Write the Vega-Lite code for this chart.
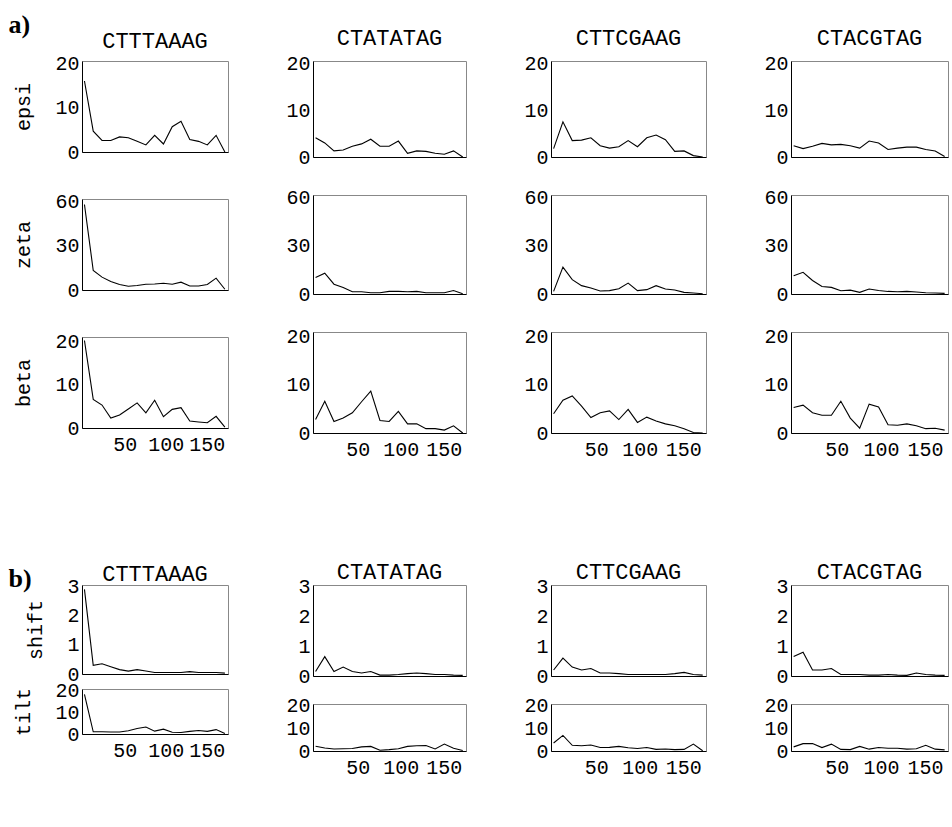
{
  "$schema": "https://vega.github.io/schema/vega-lite/v6.json",
  "background": "white",
  "padding": {"left": 8, "top": 11, "right": 0, "bottom": 0},
  "data": {"values": [
    {"x": 1, "epsi_CTTTAAAG": 16.0, "epsi_CTATATAG": 4.1, "epsi_CTTCGAAG": 1.8, "epsi_CTACGTAG": 2.4, "zeta_CTTTAAAG": 57.8, "zeta_CTATATAG": 10.2, "zeta_CTTCGAAG": 1.6, "zeta_CTACGTAG": 11.4, "beta_CTTTAAAG": 20.2, "beta_CTATATAG": 2.8, "beta_CTTCGAAG": 4.0, "beta_CTACGTAG": 5.3, "shift_CTTTAAAG": 2.9, "shift_CTATATAG": 0.15, "shift_CTTCGAAG": 0.2, "shift_CTACGTAG": 0.65, "tilt_CTTTAAAG": 18, "tilt_CTATATAG": 2.1, "tilt_CTTCGAAG": 3.5, "tilt_CTACGTAG": 1.8},
    {"x": 11.7, "epsi_CTTTAAAG": 4.7, "epsi_CTATATAG": 3.0, "epsi_CTTCGAAG": 7.5, "epsi_CTACGTAG": 1.8, "zeta_CTTTAAAG": 13.2, "zeta_CTATATAG": 12.9, "zeta_CTTCGAAG": 16.7, "zeta_CTACGTAG": 13.5, "beta_CTTTAAAG": 6.6, "beta_CTATATAG": 6.6, "beta_CTTCGAAG": 6.8, "beta_CTACGTAG": 5.8, "shift_CTTTAAAG": 0.3, "shift_CTATATAG": 0.65, "shift_CTTCGAAG": 0.6, "shift_CTACGTAG": 0.8, "tilt_CTTTAAAG": 1.0, "tilt_CTATATAG": 1.3, "tilt_CTTCGAAG": 6.8, "tilt_CTACGTAG": 3.2},
    {"x": 22.4, "epsi_CTTTAAAG": 2.6, "epsi_CTATATAG": 1.3, "epsi_CTTCGAAG": 3.5, "epsi_CTACGTAG": 2.3, "zeta_CTTTAAAG": 8.7, "zeta_CTATATAG": 6.1, "zeta_CTTCGAAG": 8.9, "zeta_CTACGTAG": 8.4, "beta_CTTTAAAG": 5.3, "beta_CTATATAG": 2.4, "beta_CTTCGAAG": 7.7, "beta_CTACGTAG": 4.2, "shift_CTTTAAAG": 0.35, "shift_CTATATAG": 0.15, "shift_CTTCGAAG": 0.3, "shift_CTACGTAG": 0.2, "tilt_CTTTAAAG": 1.0, "tilt_CTATATAG": 0.9, "tilt_CTTCGAAG": 2.5, "tilt_CTACGTAG": 3.3},
    {"x": 33.1, "epsi_CTTTAAAG": 2.6, "epsi_CTATATAG": 1.5, "epsi_CTTCGAAG": 3.6, "epsi_CTACGTAG": 2.9, "zeta_CTTTAAAG": 5.7, "zeta_CTATATAG": 4.1, "zeta_CTTCGAAG": 5.2, "zeta_CTACGTAG": 4.7, "beta_CTTTAAAG": 2.3, "beta_CTATATAG": 3.1, "beta_CTTCGAAG": 5.6, "beta_CTACGTAG": 3.7, "shift_CTTTAAAG": 0.25, "shift_CTATATAG": 0.3, "shift_CTTCGAAG": 0.2, "shift_CTACGTAG": 0.2, "tilt_CTTTAAAG": 0.9, "tilt_CTATATAG": 1.0, "tilt_CTTCGAAG": 2.3, "tilt_CTACGTAG": 1.5},
    {"x": 43.8, "epsi_CTTTAAAG": 3.4, "epsi_CTATATAG": 2.3, "epsi_CTTCGAAG": 4.1, "epsi_CTACGTAG": 2.6, "zeta_CTTTAAAG": 3.7, "zeta_CTATATAG": 1.4, "zeta_CTTCGAAG": 3.7, "zeta_CTACGTAG": 4.1, "beta_CTTTAAAG": 3.0, "beta_CTATATAG": 4.2, "beta_CTTCGAAG": 3.2, "beta_CTACGTAG": 3.7, "shift_CTTTAAAG": 0.15, "shift_CTATATAG": 0.15, "shift_CTTCGAAG": 0.25, "shift_CTACGTAG": 0.25, "tilt_CTTTAAAG": 0.9, "tilt_CTATATAG": 1.1, "tilt_CTTCGAAG": 2.6, "tilt_CTACGTAG": 3.0},
    {"x": 54.5, "epsi_CTTTAAAG": 3.2, "epsi_CTATATAG": 2.8, "epsi_CTTCGAAG": 2.4, "epsi_CTACGTAG": 2.7, "zeta_CTTTAAAG": 2.5, "zeta_CTATATAG": 1.4, "zeta_CTTCGAAG": 1.9, "zeta_CTACGTAG": 2.0, "beta_CTTTAAAG": 4.4, "beta_CTATATAG": 6.5, "beta_CTTCGAAG": 4.2, "beta_CTACGTAG": 6.6, "shift_CTTTAAAG": 0.1, "shift_CTATATAG": 0.1, "shift_CTTCGAAG": 0.1, "shift_CTACGTAG": 0.05, "tilt_CTTTAAAG": 1.5, "tilt_CTATATAG": 1.8, "tilt_CTTCGAAG": 1.5, "tilt_CTACGTAG": 0.7},
    {"x": 65.2, "epsi_CTTTAAAG": 2.4, "epsi_CTATATAG": 3.8, "epsi_CTTCGAAG": 1.9, "epsi_CTACGTAG": 2.4, "zeta_CTTTAAAG": 3.0, "zeta_CTATATAG": 0.8, "zeta_CTTCGAAG": 2.1, "zeta_CTACGTAG": 2.4, "beta_CTTTAAAG": 5.8, "beta_CTATATAG": 8.7, "beta_CTTCGAAG": 4.6, "beta_CTACGTAG": 3.1, "shift_CTTTAAAG": 0.15, "shift_CTATATAG": 0.15, "shift_CTTCGAAG": 0.1, "shift_CTACGTAG": 0.05, "tilt_CTTTAAAG": 2.5, "tilt_CTATATAG": 2.0, "tilt_CTTCGAAG": 1.6, "tilt_CTACGTAG": 0.6},
    {"x": 75.9, "epsi_CTTTAAAG": 1.6, "epsi_CTATATAG": 2.3, "epsi_CTTCGAAG": 2.2, "epsi_CTACGTAG": 1.9, "zeta_CTTTAAAG": 3.9, "zeta_CTATATAG": 0.8, "zeta_CTTCGAAG": 3.3, "zeta_CTACGTAG": 1.0, "beta_CTTTAAAG": 3.5, "beta_CTATATAG": 2.6, "beta_CTTCGAAG": 2.8, "beta_CTACGTAG": 1.0, "shift_CTTTAAAG": 0.1, "shift_CTATATAG": 0.03, "shift_CTTCGAAG": 0.08, "shift_CTACGTAG": 0.05, "tilt_CTTTAAAG": 3.2, "tilt_CTATATAG": 0.3, "tilt_CTTCGAAG": 2.0, "tilt_CTACGTAG": 2.0},
    {"x": 86.6, "epsi_CTTTAAAG": 3.75, "epsi_CTATATAG": 2.3, "epsi_CTTCGAAG": 3.5, "epsi_CTACGTAG": 3.4, "zeta_CTTTAAAG": 4.1, "zeta_CTATATAG": 1.6, "zeta_CTTCGAAG": 6.8, "zeta_CTACGTAG": 3.1, "beta_CTTTAAAG": 6.4, "beta_CTATATAG": 2.4, "beta_CTTCGAAG": 4.9, "beta_CTACGTAG": 6.0, "shift_CTTTAAAG": 0.05, "shift_CTATATAG": 0.03, "shift_CTTCGAAG": 0.05, "shift_CTACGTAG": 0.03, "tilt_CTTTAAAG": 1.3, "tilt_CTATATAG": 0.6, "tilt_CTTCGAAG": 1.4, "tilt_CTACGTAG": 0.8},
    {"x": 97.3, "epsi_CTTTAAAG": 1.8, "epsi_CTATATAG": 3.4, "epsi_CTTCGAAG": 2.2, "epsi_CTACGTAG": 3.0, "zeta_CTTTAAAG": 4.6, "zeta_CTATATAG": 1.6, "zeta_CTTCGAAG": 2.1, "zeta_CTACGTAG": 2.2, "beta_CTTTAAAG": 2.6, "beta_CTATATAG": 4.5, "beta_CTTCGAAG": 2.2, "beta_CTACGTAG": 5.4, "shift_CTTTAAAG": 0.05, "shift_CTATATAG": 0.05, "shift_CTTCGAAG": 0.05, "shift_CTACGTAG": 0.03, "tilt_CTTTAAAG": 2.2, "tilt_CTATATAG": 1.0, "tilt_CTTCGAAG": 1.1, "tilt_CTACGTAG": 1.5},
    {"x": 108, "epsi_CTTTAAAG": 5.7, "epsi_CTATATAG": 0.8, "epsi_CTTCGAAG": 4.1, "epsi_CTACGTAG": 1.6, "zeta_CTTTAAAG": 3.9, "zeta_CTATATAG": 1.4, "zeta_CTTCGAAG": 2.7, "zeta_CTACGTAG": 1.6, "beta_CTTTAAAG": 4.3, "beta_CTATATAG": 1.9, "beta_CTTCGAAG": 3.3, "beta_CTACGTAG": 1.7, "shift_CTTTAAAG": 0.05, "shift_CTATATAG": 0.08, "shift_CTTCGAAG": 0.05, "shift_CTACGTAG": 0.05, "tilt_CTTTAAAG": 0.8, "tilt_CTATATAG": 2.0, "tilt_CTTCGAAG": 1.5, "tilt_CTACGTAG": 1.2},
    {"x": 118.7, "epsi_CTTTAAAG": 6.9, "epsi_CTATATAG": 1.3, "epsi_CTTCGAAG": 4.7, "epsi_CTACGTAG": 1.9, "zeta_CTTTAAAG": 5.3, "zeta_CTATATAG": 1.6, "zeta_CTTCGAAG": 5.2, "zeta_CTACGTAG": 1.4, "beta_CTTTAAAG": 4.7, "beta_CTATATAG": 1.9, "beta_CTTCGAAG": 2.5, "beta_CTACGTAG": 1.6, "shift_CTTTAAAG": 0.05, "shift_CTATATAG": 0.1, "shift_CTTCGAAG": 0.05, "shift_CTACGTAG": 0.03, "tilt_CTTTAAAG": 0.7, "tilt_CTATATAG": 2.3, "tilt_CTTCGAAG": 0.7, "tilt_CTACGTAG": 1.2},
    {"x": 129.4, "epsi_CTTTAAAG": 2.8, "epsi_CTATATAG": 1.2, "epsi_CTTCGAAG": 3.7, "epsi_CTACGTAG": 2.1, "zeta_CTTTAAAG": 2.7, "zeta_CTATATAG": 0.8, "zeta_CTTCGAAG": 3.1, "zeta_CTACGTAG": 1.6, "beta_CTTTAAAG": 1.6, "beta_CTATATAG": 0.9, "beta_CTTCGAAG": 1.9, "beta_CTACGTAG": 1.9, "shift_CTTTAAAG": 0.08, "shift_CTATATAG": 0.08, "shift_CTTCGAAG": 0.05, "shift_CTACGTAG": 0.02, "tilt_CTTTAAAG": 1.2, "tilt_CTATATAG": 2.4, "tilt_CTTCGAAG": 0.9, "tilt_CTACGTAG": 0.8},
    {"x": 140.1, "epsi_CTTTAAAG": 2.4, "epsi_CTATATAG": 0.8, "epsi_CTTCGAAG": 1.2, "epsi_CTACGTAG": 2.1, "zeta_CTTTAAAG": 2.7, "zeta_CTATATAG": 0.8, "zeta_CTTCGAAG": 2.5, "zeta_CTACGTAG": 1.2, "beta_CTTTAAAG": 1.4, "beta_CTATATAG": 0.9, "beta_CTTCGAAG": 1.5, "beta_CTACGTAG": 1.5, "shift_CTTTAAAG": 0.05, "shift_CTATATAG": 0.05, "shift_CTTCGAAG": 0.08, "shift_CTACGTAG": 0.1, "tilt_CTTTAAAG": 1.6, "tilt_CTATATAG": 0.9, "tilt_CTTCGAAG": 0.6, "tilt_CTACGTAG": 1.0},
    {"x": 150.8, "epsi_CTTTAAAG": 1.6, "epsi_CTATATAG": 0.6, "epsi_CTTCGAAG": 1.3, "epsi_CTACGTAG": 1.6, "zeta_CTTTAAAG": 3.7, "zeta_CTATATAG": 0.8, "zeta_CTTCGAAG": 1.0, "zeta_CTACGTAG": 0.8, "beta_CTTTAAAG": 1.2, "beta_CTATATAG": 0.6, "beta_CTTCGAAG": 0.9, "beta_CTACGTAG": 0.9, "shift_CTTTAAAG": 0.05, "shift_CTATATAG": 0.05, "shift_CTTCGAAG": 0.12, "shift_CTACGTAG": 0.05, "tilt_CTTTAAAG": 1.2, "tilt_CTATATAG": 3.0, "tilt_CTTCGAAG": 0.7, "tilt_CTACGTAG": 2.5},
    {"x": 161.5, "epsi_CTTTAAAG": 3.75, "epsi_CTATATAG": 1.3, "epsi_CTTCGAAG": 0.3, "epsi_CTACGTAG": 1.3, "zeta_CTTTAAAG": 8.0, "zeta_CTATATAG": 2.2, "zeta_CTTCGAAG": 0.6, "zeta_CTACGTAG": 0.6, "beta_CTTTAAAG": 2.7, "beta_CTATATAG": 1.5, "beta_CTTCGAAG": 0.1, "beta_CTACGTAG": 1.0, "shift_CTTTAAAG": 0.05, "shift_CTATATAG": 0.03, "shift_CTTCGAAG": 0.05, "shift_CTACGTAG": 0.03, "tilt_CTTTAAAG": 2.0, "tilt_CTATATAG": 1.2, "tilt_CTTCGAAG": 3.0, "tilt_CTACGTAG": 0.8},
    {"x": 172.2, "epsi_CTTTAAAG": 0, "epsi_CTATATAG": 0, "epsi_CTTCGAAG": 0, "epsi_CTACGTAG": 0.1, "zeta_CTTTAAAG": 0.5, "zeta_CTATATAG": 0.2, "zeta_CTTCGAAG": 0.2, "zeta_CTACGTAG": 0.4, "beta_CTTTAAAG": 0.2, "beta_CTATATAG": 0, "beta_CTTCGAAG": 0, "beta_CTACGTAG": 0.6, "shift_CTTTAAAG": 0.03, "shift_CTATATAG": 0.02, "shift_CTTCGAAG": 0.03, "shift_CTACGTAG": 0.02, "tilt_CTTTAAAG": 0.2, "tilt_CTATATAG": 0.2, "tilt_CTTCGAAG": 0.1, "tilt_CTACGTAG": 0.5}
  ]},
  "spacing": 100,
  "vconcat": [
    {
      "title": {"text": "a)", "anchor": "start", "frame": "bounds", "font": "Liberation Serif", "fontSize": 26, "fontWeight": "bold", "dx": -5, "offset": -11},
      "spacing": 56,
      "hconcat": [
        {"bounds": "flush", "spacing": 47, "vconcat": [
          {"width": 146, "height": 91, "title": {"text": "CTTTAAAG", "offset": 0}, "mark": {"type": "line", "color": "black", "strokeWidth": 1.1},
           "encoding": {"x": {"field": "x", "type": "quantitative", "scale": {"domain": [-2, 176], "nice": false, "zero": false}, "axis": {"labels": false, "title": null}},
                        "y": {"field": "epsi_CTTTAAAG", "type": "quantitative", "scale": {"domain": [0, 20.5], "nice": false}, "axis": {"values": [0, 10, 20], "title": "epsi"}}}},
          {"width": 146, "height": 91, "mark": {"type": "line", "color": "black", "strokeWidth": 1.1},
           "encoding": {"x": {"field": "x", "type": "quantitative", "scale": {"domain": [-2, 176], "nice": false, "zero": false}, "axis": {"labels": false, "title": null}},
                        "y": {"field": "zeta_CTTTAAAG", "type": "quantitative", "scale": {"domain": [0, 61.5], "nice": false}, "axis": {"values": [0, 30, 60], "title": "zeta"}}}},
          {"width": 146, "height": 91, "mark": {"type": "line", "color": "black", "strokeWidth": 1.1},
           "encoding": {"x": {"field": "x", "type": "quantitative", "scale": {"domain": [-2, 176], "nice": false, "zero": false}, "axis": {"values": [50, 100, 150], "title": null}},
                        "y": {"field": "beta_CTTTAAAG", "type": "quantitative", "scale": {"domain": [0, 21], "nice": false}, "axis": {"values": [0, 10, 20], "title": "beta"}}}}
        ]},
        {"bounds": "flush", "spacing": 38, "vconcat": [
          {"width": 153, "height": 96, "title": {"text": "CTATATAG", "offset": 3}, "mark": {"type": "line", "color": "black", "strokeWidth": 1.1},
           "encoding": {"x": {"field": "x", "type": "quantitative", "scale": {"domain": [-2, 176], "nice": false, "zero": false}, "axis": {"labels": false, "title": null}},
                        "y": {"field": "epsi_CTATATAG", "type": "quantitative", "scale": {"domain": [0, 20.5], "nice": false}, "axis": {"values": [0, 10, 20], "title": null}}}},
          {"width": 153, "height": 99, "mark": {"type": "line", "color": "black", "strokeWidth": 1.1},
           "encoding": {"x": {"field": "x", "type": "quantitative", "scale": {"domain": [-2, 176], "nice": false, "zero": false}, "axis": {"labels": false, "title": null}},
                        "y": {"field": "zeta_CTATATAG", "type": "quantitative", "scale": {"domain": [0, 61.5], "nice": false}, "axis": {"values": [0, 30, 60], "title": null}}}},
          {"width": 153, "height": 101, "mark": {"type": "line", "color": "black", "strokeWidth": 1.1},
           "encoding": {"x": {"field": "x", "type": "quantitative", "scale": {"domain": [-2, 176], "nice": false, "zero": false}, "axis": {"values": [50, 100, 150], "title": null}},
                        "y": {"field": "beta_CTATATAG", "type": "quantitative", "scale": {"domain": [0, 21], "nice": false}, "axis": {"values": [0, 10, 20], "title": null}}}}
        ]},
        {"bounds": "flush", "spacing": 38, "vconcat": [
          {"width": 155, "height": 96, "title": {"text": "CTTCGAAG", "offset": 3}, "mark": {"type": "line", "color": "black", "strokeWidth": 1.1},
           "encoding": {"x": {"field": "x", "type": "quantitative", "scale": {"domain": [-2, 176], "nice": false, "zero": false}, "axis": {"labels": false, "title": null}},
                        "y": {"field": "epsi_CTTCGAAG", "type": "quantitative", "scale": {"domain": [0, 20.5], "nice": false}, "axis": {"values": [0, 10, 20], "title": null}}}},
          {"width": 155, "height": 99, "mark": {"type": "line", "color": "black", "strokeWidth": 1.1},
           "encoding": {"x": {"field": "x", "type": "quantitative", "scale": {"domain": [-2, 176], "nice": false, "zero": false}, "axis": {"labels": false, "title": null}},
                        "y": {"field": "zeta_CTTCGAAG", "type": "quantitative", "scale": {"domain": [0, 61.5], "nice": false}, "axis": {"values": [0, 30, 60], "title": null}}}},
          {"width": 155, "height": 101, "mark": {"type": "line", "color": "black", "strokeWidth": 1.1},
           "encoding": {"x": {"field": "x", "type": "quantitative", "scale": {"domain": [-2, 176], "nice": false, "zero": false}, "axis": {"values": [50, 100, 150], "title": null}},
                        "y": {"field": "beta_CTTCGAAG", "type": "quantitative", "scale": {"domain": [0, 21], "nice": false}, "axis": {"values": [0, 10, 20], "title": null}}}}
        ]},
        {"bounds": "flush", "spacing": 38, "vconcat": [
          {"width": 157, "height": 96, "title": {"text": "CTACGTAG", "offset": 3}, "mark": {"type": "line", "color": "black", "strokeWidth": 1.1},
           "encoding": {"x": {"field": "x", "type": "quantitative", "scale": {"domain": [-2, 176], "nice": false, "zero": false}, "axis": {"labels": false, "title": null}},
                        "y": {"field": "epsi_CTACGTAG", "type": "quantitative", "scale": {"domain": [0, 20.5], "nice": false}, "axis": {"values": [0, 10, 20], "title": null}}}},
          {"width": 157, "height": 99, "mark": {"type": "line", "color": "black", "strokeWidth": 1.1},
           "encoding": {"x": {"field": "x", "type": "quantitative", "scale": {"domain": [-2, 176], "nice": false, "zero": false}, "axis": {"labels": false, "title": null}},
                        "y": {"field": "zeta_CTACGTAG", "type": "quantitative", "scale": {"domain": [0, 61.5], "nice": false}, "axis": {"values": [0, 30, 60], "title": null}}}},
          {"width": 157, "height": 101, "mark": {"type": "line", "color": "black", "strokeWidth": 1.1},
           "encoding": {"x": {"field": "x", "type": "quantitative", "scale": {"domain": [-2, 176], "nice": false, "zero": false}, "axis": {"values": [50, 100, 150], "title": null}},
                        "y": {"field": "beta_CTACGTAG", "type": "quantitative", "scale": {"domain": [0, 21], "nice": false}, "axis": {"values": [0, 10, 20], "title": null}}}}
        ]}
      ]
    },
    {
      "title": {"text": "b)", "anchor": "start", "frame": "bounds", "font": "Liberation Serif", "fontSize": 26, "fontWeight": "bold", "dx": -5, "offset": -31},
      "spacing": 56,
      "hconcat": [
        {"bounds": "flush", "spacing": 15, "vconcat": [
          {"width": 146, "height": 89, "title": {"text": "CTTTAAAG", "offset": -10}, "mark": {"type": "line", "color": "black", "strokeWidth": 1.1},
           "encoding": {"x": {"field": "x", "type": "quantitative", "scale": {"domain": [-2, 176], "nice": false, "zero": false}, "axis": {"labels": false, "title": null}},
                        "y": {"field": "shift_CTTTAAAG", "type": "quantitative", "scale": {"domain": [0, 3.05], "nice": false}, "axis": {"values": [0, 1, 2, 3], "title": "shift"}}}},
          {"width": 146, "height": 45, "mark": {"type": "line", "color": "black", "strokeWidth": 1.1},
           "encoding": {"x": {"field": "x", "type": "quantitative", "scale": {"domain": [-2, 176], "nice": false, "zero": false}, "axis": {"values": [50, 100, 150], "title": null}},
                        "y": {"field": "tilt_CTTTAAAG", "type": "quantitative", "scale": {"domain": [0, 20.5], "nice": false}, "axis": {"values": [0, 10, 20], "title": "tilt"}}}}
        ]},
        {"bounds": "flush", "spacing": 28, "vconcat": [
          {"width": 153, "height": 91, "title": {"text": "CTATATAG", "offset": -8}, "mark": {"type": "line", "color": "black", "strokeWidth": 1.1},
           "encoding": {"x": {"field": "x", "type": "quantitative", "scale": {"domain": [-2, 176], "nice": false, "zero": false}, "axis": {"labels": false, "title": null}},
                        "y": {"field": "shift_CTATATAG", "type": "quantitative", "scale": {"domain": [0, 3.05], "nice": false}, "axis": {"values": [0, 1, 2, 3], "title": null}}}},
          {"width": 153, "height": 47, "mark": {"type": "line", "color": "black", "strokeWidth": 1.1},
           "encoding": {"x": {"field": "x", "type": "quantitative", "scale": {"domain": [-2, 176], "nice": false, "zero": false}, "axis": {"values": [50, 100, 150], "title": null}},
                        "y": {"field": "tilt_CTATATAG", "type": "quantitative", "scale": {"domain": [0, 20.5], "nice": false}, "axis": {"values": [0, 10, 20], "title": null}}}}
        ]},
        {"bounds": "flush", "spacing": 28, "vconcat": [
          {"width": 155, "height": 91, "title": {"text": "CTTCGAAG", "offset": -8}, "mark": {"type": "line", "color": "black", "strokeWidth": 1.1},
           "encoding": {"x": {"field": "x", "type": "quantitative", "scale": {"domain": [-2, 176], "nice": false, "zero": false}, "axis": {"labels": false, "title": null}},
                        "y": {"field": "shift_CTTCGAAG", "type": "quantitative", "scale": {"domain": [0, 3.05], "nice": false}, "axis": {"values": [0, 1, 2, 3], "title": null}}}},
          {"width": 155, "height": 47, "mark": {"type": "line", "color": "black", "strokeWidth": 1.1},
           "encoding": {"x": {"field": "x", "type": "quantitative", "scale": {"domain": [-2, 176], "nice": false, "zero": false}, "axis": {"values": [50, 100, 150], "title": null}},
                        "y": {"field": "tilt_CTTCGAAG", "type": "quantitative", "scale": {"domain": [0, 20.5], "nice": false}, "axis": {"values": [0, 10, 20], "title": null}}}}
        ]},
        {"bounds": "flush", "spacing": 28, "vconcat": [
          {"width": 157, "height": 91, "title": {"text": "CTACGTAG", "offset": -8}, "mark": {"type": "line", "color": "black", "strokeWidth": 1.1},
           "encoding": {"x": {"field": "x", "type": "quantitative", "scale": {"domain": [-2, 176], "nice": false, "zero": false}, "axis": {"labels": false, "title": null}},
                        "y": {"field": "shift_CTACGTAG", "type": "quantitative", "scale": {"domain": [0, 3.05], "nice": false}, "axis": {"values": [0, 1, 2, 3], "title": null}}}},
          {"width": 157, "height": 47, "mark": {"type": "line", "color": "black", "strokeWidth": 1.1},
           "encoding": {"x": {"field": "x", "type": "quantitative", "scale": {"domain": [-2, 176], "nice": false, "zero": false}, "axis": {"values": [50, 100, 150], "title": null}},
                        "y": {"field": "tilt_CTACGTAG", "type": "quantitative", "scale": {"domain": [0, 20.5], "nice": false}, "axis": {"values": [0, 10, 20], "title": null}}}}
        ]}
      ]
    }
  ],
  "config": {
    "view": {"stroke": "#888888", "strokeWidth": 1},
    "axis": {"labelFont": "Liberation Mono", "labelFontSize": 20, "labelColor": "black", "domainColor": "black", "domainWidth": 1, "ticks": false, "grid": false, "labelPadding": 3, "labelOverlap": false, "titleFont": "Liberation Mono", "titleFontSize": 20, "titleFontWeight": "normal", "titleColor": "black", "titlePadding": 21},
    "axisX": {"labelPadding": 6, "labelFlush": false},
    "title": {"font": "Liberation Mono", "fontSize": 22, "fontWeight": "normal", "color": "black", "offset": 8}
  }
}
